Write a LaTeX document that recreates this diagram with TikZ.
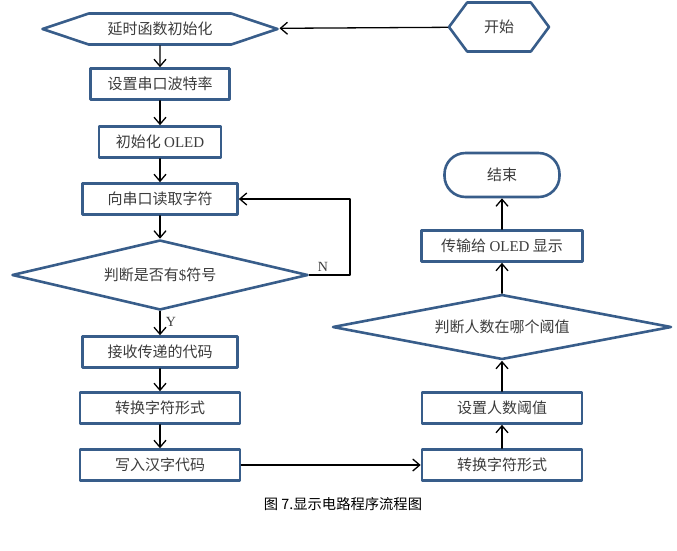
\documentclass[tikz,border=0pt]{standalone}
\usepackage{fontspec}
\setmainfont{Liberation Serif}
\newfontfamily\cjk{Noto Sans CJK SC}
\usepackage{tikz}
\usetikzlibrary{arrows.meta,shapes.geometric,shapes.symbols}
\definecolor{boxblue}{RGB}{56,93,138}
\definecolor{txtgray}{RGB}{60,60,60}
\tikzset{
  stepbox/.style={draw=boxblue,line width=2.6pt,fill=white,rectangle,minimum height=31pt,inner sep=0pt,text=txtgray,font=\fontsize{15}{18}\selectfont\cjk},
  hexbox/.style={stepbox,signal,signal to=west and east},
  askbox/.style={stepbox,diamond,aspect=4.5},
  endbox/.style={stepbox,rounded corners=21pt,minimum width=115pt,minimum height=44pt},
  flow/.style={line width=1.3pt,->},
  lbl/.style={font=\fontsize{14}{16}\selectfont,text=txtgray}
}
\begin{document}
\begin{tikzpicture}[line cap=round,line join=round,>={Straight Barb[length=7pt,width=12pt]},x=1pt,y=-1pt]
\useasboundingbox (0,0) rectangle (677,550);
\node[hexbox,signal pointer angle=37,minimum width=235pt] (delay) at (160,29) {延时函数初始化};
\node[hexbox,signal pointer angle=107,minimum width=100pt,minimum height=49pt] (start) at (499,27) {开始};
\node[stepbox,minimum width=139pt] (baud) at (160,84) {设置串口波特率};
\node[stepbox,minimum width=122pt] (oledinit) at (160,142) {初始化 {\rmfamily OLED}};
\node[stepbox,minimum width=155pt] (readc) at (160,199) {向串口读取字符};
\node[askbox,minimum width=296pt,minimum height=70pt] (dollar) at (160,275) {判断是否有{\rmfamily\$}符号};
\node[stepbox,minimum width=155pt] (recv) at (160,352) {接收传递的代码};
\node[stepbox,minimum width=160pt] (convl) at (160,408) {转换字符形式};
\node[stepbox,minimum width=160pt] (writec) at (160,465) {写入汉字代码};
\node[stepbox,minimum width=160pt] (convr) at (502,465) {转换字符形式};
\node[stepbox,minimum width=160pt] (setth) at (502,408) {设置人数阈值};
\node[askbox,minimum width=339pt,minimum height=65pt] (which) at (502,327) {判断人数在哪个阈值};
\node[stepbox,minimum width=161pt] (show) at (502,246) {传输给 {\rmfamily OLED} 显示};
\node[endbox] (finish) at (502,175) {结束};
\node[font=\fontsize{14.3}{17}\selectfont\cjk] (cap) at (343,504) {图 7.显示电路程序流程图};
\coordinate (back) at (350,275);
% connectors
\draw[flow] (start) -- (delay);
\draw[flow] (delay) -- (baud);
\draw[flow] (baud) -- (oledinit);
\draw[flow] (oledinit) -- (readc);
\draw[flow] (readc) -- (dollar);
\draw[flow] (dollar.east) -- (back) |- (readc.east);
\draw[flow] (dollar) -- (recv);
\draw[flow] (recv) -- (convl);
\draw[flow] (convl) -- (writec);
\draw[flow] (writec) -- (convr);
\draw[flow] (convr) -- (setth);
\draw[flow] (setth) -- (which);
\draw[flow] (which) -- (show);
\draw[flow] (show) -- (finish);
\node[lbl] (nlab) at (323,267) {N};
\node[lbl] (ylab) at (171,322) {Y};
\end{tikzpicture}
\end{document}
